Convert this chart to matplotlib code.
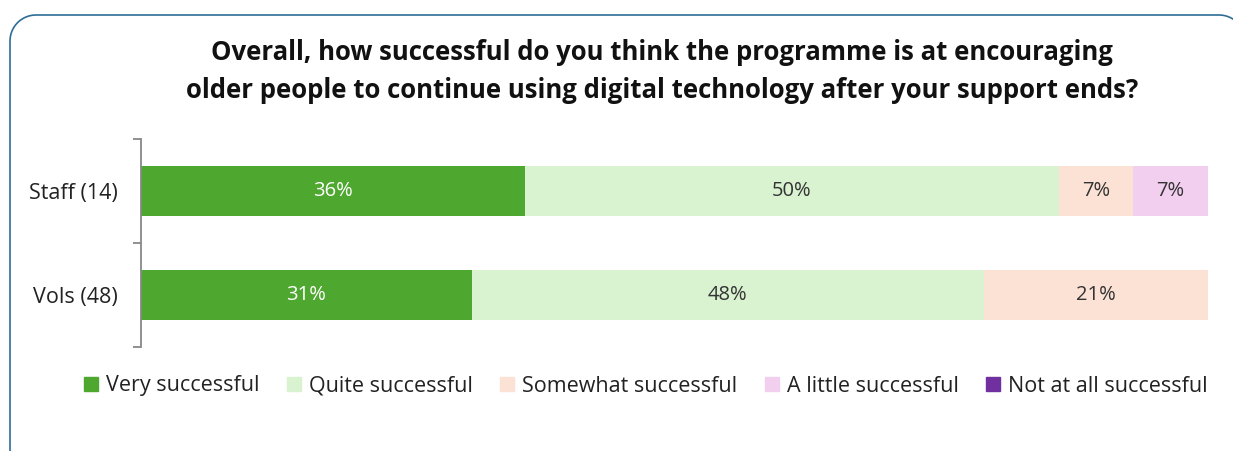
import numpy as np
import matplotlib.pyplot as plt
from matplotlib.path import Path
from matplotlib.patches import PathPatch
from matplotlib.lines import Line2D

groups = ['Staff (14)', 'Vols (48)']
responses = ['Very successful', 'Quite successful', 'Somewhat successful',
             'A little successful', 'Not at all successful']
very = [36, 31]
quite = [50, 48]
somewhat = [7, 21]
a_little = [7, 0]
not_at_all = [0, 0]

colours = ['#4EA72E', '#D9F2D0', '#FBE2D5', '#F2CEEF', '#7030A0']
label_colours = ['white', '#333333', '#333333', '#333333', 'white']

plt.rcParams['font.family'] = ['Open Sans', 'DejaVu Sans']

W, H = 1233, 451
fig = plt.figure(figsize=(W / 100, H / 100), dpi=100)


def rounded_rect(x0, y0, x1, y1, r, n=20):
    # closed outline of a rectangle with round corners, y measured downwards
    pts = []
    corners = [(x1 - r, y0 + r, -90, 0), (x1 - r, y1 - r, 0, 90),
               (x0 + r, y1 - r, 90, 180), (x0 + r, y0 + r, 180, 270)]
    for cx, cy, a0, a1 in corners:
        t = np.radians(np.linspace(a0, a1, n))
        pts += list(zip(cx + r * np.cos(t), cy + r * np.sin(t)))
    pts.append(pts[0])
    return Path(pts)


# background layer in pixel units, holds the frame
bg = fig.add_axes([0, 0, 1, 1])
bg.set_xlim(0, W)
bg.set_ylim(H, 0)
bg.axis('off')
bg.add_patch(PathPatch(rounded_rect(10, 15, 1245, 475, 26), fill=False,
                       edgecolor='#2E6D96', linewidth=1.2))

fig.text(662 / W, 1 - 52 / H,
         'Overall, how successful do you think the programme is at encouraging',
         ha='center', va='center', fontsize=18.5, fontweight='bold', color='#111111')
fig.text(662 / W, 1 - 90 / H,
         'older people to continue using digital technology after your support ends?',
         ha='center', va='center', fontsize=18.5, fontweight='bold', color='#111111')

ax = fig.add_axes([141 / W, 1 - 347 / H, (1208 - 141) / W, (347 - 139) / H])

series = [very, quite, somewhat, a_little, not_at_all]
y = np.arange(len(groups))
left = np.zeros(len(groups))
for vals, col, tcol, name in zip(series, colours, label_colours, responses):
    vals = np.array(vals, dtype=float)
    bars = ax.barh(y, vals, left=left, height=0.49, color=col, label=name)
    for b, v in zip(bars, vals):
        if v > 0:
            ax.text(b.get_x() + b.get_width() / 2, b.get_y() + b.get_height() / 2,
                    f'{v:.0f}%', ha='center', va='center', fontsize=14.5, color=tcol)
    left += vals

ax.set_xlim(0, 100)
ax.set_ylim(1.5, -0.5)
ax.set_xticks([])
ax.set_yticks([-0.5, 0.5, 1.5])
ax.set_yticklabels([])
ax.set_yticks(y, minor=True)
ax.set_yticklabels(groups, minor=True, fontsize=15.5, color='#222222')
ax.tick_params(axis='y', which='major', length=6, color='#888888', width=1.3)
ax.tick_params(axis='y', which='minor', length=0, pad=17)
for side in ['top', 'right', 'bottom']:
    ax.spines[side].set_visible(False)
ax.spines['left'].set_color('#888888')
ax.spines['left'].set_linewidth(1.3)

handles = [Line2D([], [], marker='s', linestyle='none', markersize=10.5,
                  markerfacecolor=c, markeredgecolor=c) for c in colours]
fig.legend(handles, responses, loc='center', bbox_to_anchor=(646 / W, 1 - 386 / H),
           ncol=5, frameon=False, fontsize=15.5, handlelength=0.6, handletextpad=0.4,
           columnspacing=1.3, labelcolor='#222222')

fig.savefig('out.png', dpi=100, facecolor='white')
